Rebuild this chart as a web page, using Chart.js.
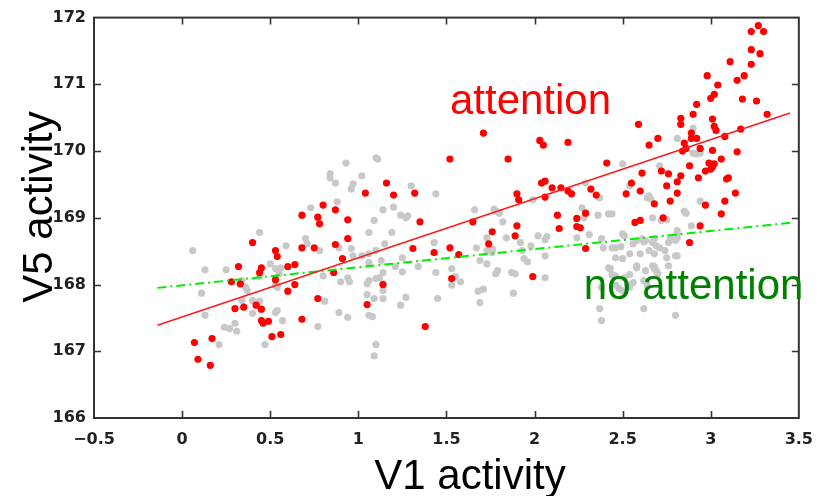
<!DOCTYPE html>
<html>
<head>
<meta charset="utf-8">
<script src="https://cdn.jsdelivr.net/npm/chart.js@4/dist/chart.umd.min.js"></script>
<style>
html,body{margin:0;padding:0;background:#fff;}
canvas{display:block;}
</style>
</head>
<body>
<canvas id="c" width="825" height="496"></canvas>
<script>
// ---- tick labels ----
const xTickValues = [-0.5, 0, 0.5, 1, 1.5, 2, 2.5, 3, 3.5];
const yTickValues = [166, 167, 168, 169, 170, 171, 172];

// ---- attention (red) points ----
const attentionX = [0.40,0.68,0.75,0.87,0.53,0.54,0.91,0.32,0.45,0.60,
0.64,0.44,0.86,0.28,0.33,0.53,0.64,0.60,0.77,0.30,
0.35,0.42,0.45,0.45,0.46,0.49,0.68,0.07,0.17,0.51,
0.56,0.09,0.16,0.80,0.68,0.77,0.78,0.87,0.94,1.04,
1.52,1.71,1.16,1.20,1.32,0.94,1.85,2.03,2.05,2.19,
2.04,2.06,1.90,1.91,2.06,2.10,2.15,2.19,1.35,1.65,
2.13,1.90,2.14,1.76,1.89,1.31,1.52,1.43,1.57,1.74,
1.14,1.05,1.53,1.99,1.38,2.59,2.65,2.70,2.41,2.21,
2.32,2.35,2.55,2.61,2.52,2.60,2.72,2.76,2.77,2.75,
2.81,2.83,2.88,2.93,2.97,2.99,3.01,3.02,3.00,3.06,
3.09,3.10,3.14,3.15,3.08,3.06,2.83,2.83,2.90,2.92,
2.89,2.89,2.92,2.94,2.85,2.86,3.01,3.02,3.03,3.01,
3.08,3.17,2.98,3.00,3.02,3.04,3.11,3.15,3.19,3.18,
3.23,3.23,3.26,3.28,3.23,3.27,3.30,3.32,
2.24,2.24,2.26,2.29,2.29,2.57,2.60,2.68,2.73,2.88,
2.94,2.97,2.81,2.84];
const attentionY = [168.63,168.55,168.55,168.60,168.51,168.42,168.39,168.27,168.25,168.27,
168.30,168.18,168.18,168.04,168.01,168.07,168.00,167.90,167.79,167.64,
167.66,167.69,167.63,167.46,167.42,167.45,167.48,167.13,167.19,167.22,
167.25,166.88,166.79,169.19,169.04,169.01,168.91,169.12,168.97,169.37,
169.88,170.27,169.52,169.34,169.37,168.69,169.88,170.16,170.09,170.13,
169.52,169.55,169.36,169.27,169.31,169.45,169.45,169.40,168.94,168.94,
169.04,168.88,168.84,168.79,168.73,168.54,168.55,168.48,168.45,168.61,
168.00,167.70,168.09,168.12,167.37,170.40,170.09,170.19,169.82,169.36,
169.43,169.34,169.52,169.67,169.36,169.40,169.70,169.66,169.25,169.48,
169.37,169.63,169.78,169.60,169.70,169.82,169.76,169.81,169.73,169.88,
169.58,169.60,169.37,169.99,169.25,169.06,170.49,170.40,170.55,170.70,
170.27,170.19,170.19,170.04,170.12,170.04,170.48,170.37,170.31,170.01,
170.22,170.33,171.13,170.79,170.85,170.99,171.34,171.06,171.13,170.78,
171.30,171.52,170.75,171.46,171.79,171.88,171.79,170.55,
168.99,168.87,168.85,169.07,168.54,168.93,168.96,169.21,169.00,168.63,
168.88,169.19,169.54,170.00];

// ---- no attention (grey) points ----
const noAttentionX = [0.06,0.13,0.11,0.13,0.25,0.34,0.37,0.34,0.40,0.40,
0.30,0.24,0.27,0.31,0.21,0.44,0.50,0.53,0.53,0.54,
0.54,0.53,0.57,0.47,0.59,0.70,0.73,0.78,0.80,0.81,
0.77,0.88,0.89,0.96,0.97,0.90,0.94,0.95,0.89,0.94,
1.06,1.09,1.20,1.24,1.27,1.28,1.19,1.15,1.10,1.02,
1.06,1.05,1.06,1.10,1.12,1.14,1.14,1.09,1.14,1.05,
1.06,1.08,1.10,1.09,1.27,1.24,1.21,1.25,1.34,1.43,
1.44,1.45,1.53,1.55,1.53,1.58,1.66,1.68,1.71,1.69,
1.76,1.79,1.78,0.84,0.84,0.87,0.93,1.02,0.97,0.96,
1.10,1.11,1.14,1.30,1.44,1.77,1.80,1.82,1.99,2.02,
2.07,1.84,1.06,1.14,1.13,1.25,1.76,1.92,1.98,1.87,
1.89,1.88,1.94,1.96,2.06,2.06,1.73,1.67,1.73,1.76,
1.73,1.69,1.93,2.06,2.36,2.42,2.44,2.38,2.44,2.46,
2.50,2.51,2.54,2.46,2.50,2.43,2.46,2.56,2.58,2.58,
2.58,2.54,2.60,2.62,2.63,2.65,2.67,2.69,2.71,2.74,
2.63,2.68,2.69,2.70,2.76,2.80,2.81,2.81,2.81,2.80,
2.86,2.89,2.72,2.75,2.75,2.37,2.38,2.62,2.80,2.53,
2.54,2.56,2.62,2.64,2.50,2.38,2.48,2.27,2.28,2.31,
2.24,2.39,2.49,2.42,2.44,2.51,2.61,2.67,2.68,2.68,
2.67,2.68,2.81,2.77,2.67,2.64,2.66,2.85,2.94,2.37,
2.76,2.46,2.90,2.81,2.90,2.94,2.92,2.50,2.71,2.29,
2.54,2.65,1.78,0.36,0.44,0.44,0.56,0.55,0.71];
const noAttentionY = [168.51,168.22,167.87,167.54,168.22,168.06,167.91,167.76,167.76,167.57,
167.42,167.36,167.34,167.30,167.10,168.78,168.31,168.24,167.99,167.96,
167.61,167.58,167.46,167.10,168.58,168.69,169.15,168.51,168.13,167.75,
167.37,169.24,168.55,168.54,168.43,168.04,168.10,168.04,167.58,167.51,
168.78,168.96,169.16,169.04,169.00,169.03,168.78,168.61,168.51,168.43,
168.33,168.01,168.06,168.09,168.10,168.01,167.91,167.79,167.79,167.85,
167.54,167.52,167.10,166.93,167.81,167.69,168.27,168.19,168.27,168.63,
168.18,167.79,168.24,168.12,167.99,168.04,169.12,167.90,167.93,167.73,
168.51,168.21,168.16,169.66,169.60,169.52,169.82,169.63,169.51,169.43,
169.90,169.88,169.12,169.48,169.36,169.13,169.07,168.94,169.27,168.73,
168.72,168.70,168.46,168.18,168.36,168.40,168.54,168.63,168.58,168.18,
168.16,167.87,168.39,168.34,168.43,168.10,168.70,168.55,168.51,168.48,
168.31,168.36,168.51,168.67,169.04,169.06,169.06,168.69,168.55,168.55,
168.76,168.73,168.46,168.40,168.39,168.24,168.13,168.61,168.66,168.28,
168.25,168.15,168.46,168.64,168.66,168.51,168.63,168.58,168.55,168.51,
168.21,168.27,168.21,168.16,168.28,168.43,168.81,168.76,168.70,168.66,
169.07,168.88,168.96,168.97,168.40,167.64,167.46,167.64,167.54,167.99,
167.96,168.03,168.06,167.99,167.91,167.96,167.94,169.15,169.00,168.75,
168.70,168.55,168.57,168.25,168.15,168.10,168.69,168.64,168.69,168.46,
168.28,168.24,168.43,168.70,169.00,169.30,169.28,169.10,169.25,169.30,
168.63,167.99,170.34,170.19,169.97,169.97,169.96,169.81,169.78,169.52,
169.48,169.33,169.10,167.96,168.12,167.75,168.25,168.16,168.61];

// ---- fitted lines (end points) ----
const attentionFitX = [-0.14, 3.45];
const attentionFitY = [167.39, 170.57];
const noAttentionFitX = [-0.14, 3.47];
const noAttentionFitY = [167.95, 168.93];

function pts(xs, ys) {
  const n = Math.min(xs.length, ys.length);
  const out = [];
  for (let i = 0; i < n; i++) out.push({x: xs[i], y: ys[i]});
  return out;
}

const fmtX = v => v < 0 ? '\u2212' + Math.abs(v) : String(v);

const framePlugin = {
  id: 'frameAndText',
  afterDraw(chart) {
    const {ctx, chartArea: a, scales} = chart;
    const x = scales.x, y = scales.y;
    ctx.save();
    // box
    ctx.strokeStyle = '#333';
    ctx.lineWidth = 2;
    ctx.strokeRect(a.left, a.top, a.right - a.left, a.bottom - a.top);
    // inward ticks on all four sides
    const L = 7;
    ctx.lineWidth = 1.6;
    ctx.beginPath();
    x.ticks.forEach(t => {
      const p = Math.round(x.getPixelForValue(t.value)) + 0.5;
      if (p <= a.left + 2 || p >= a.right - 2) return;
      ctx.moveTo(p, a.bottom); ctx.lineTo(p, a.bottom - L);
      ctx.moveTo(p, a.top); ctx.lineTo(p, a.top + L);
    });
    y.ticks.forEach(t => {
      const p = Math.round(y.getPixelForValue(t.value)) + 0.5;
      if (p <= a.top + 2 || p >= a.bottom - 2) return;
      ctx.moveTo(a.left, p); ctx.lineTo(a.left + L, p);
      ctx.moveTo(a.right, p); ctx.lineTo(a.right - L, p);
    });
    ctx.stroke();

    // axis titles
    ctx.fillStyle = '#000';
    ctx.font = '42px "Liberation Sans", Arial, sans-serif';
    ctx.textAlign = 'center';
    ctx.textBaseline = 'alphabetic';
    ctx.fillText('V1 activity', 470, 489);
    ctx.save();
    ctx.translate(52, 207);
    ctx.rotate(-Math.PI / 2);
    ctx.fillText('V5 activity', 0, 0);
    ctx.restore();

    // in-plot labels
    ctx.textAlign = 'left';
    ctx.fillStyle = '#ff0000';
    ctx.fillText('attention', x.getPixelForValue(1.52), y.getPixelForValue(170.55));
    ctx.fillStyle = '#008000';
    ctx.fillText('no attention', x.getPixelForValue(2.28), y.getPixelForValue(167.78));
    ctx.restore();
  }
};

const tickFont = {family: '"DejaVu Sans", sans-serif', size: 16, weight: 'bold'};

new Chart(document.getElementById('c'), {
  type: 'scatter',
  data: {
    datasets: [
      {
        label: 'attention fit',
        data: pts(attentionFitX, attentionFitY),
        showLine: true,
        borderColor: '#ff1a1a',
        borderWidth: 1.5,
        pointRadius: 0,
        order: 0
      },
      {
        label: 'no attention fit',
        data: pts(noAttentionFitX, noAttentionFitY),
        showLine: true,
        borderColor: '#00ee00',
        borderWidth: 2,
        borderDash: [9, 4, 2, 4],
        pointRadius: 0,
        order: 0
      },
      {
        label: 'attention',
        data: pts(attentionX, attentionY),
        backgroundColor: '#ff0000',
        borderWidth: 0,
        pointRadius: 3.6,
        order: 1
      },
      {
        label: 'no attention',
        data: pts(noAttentionX, noAttentionY),
        backgroundColor: '#c8c8c8',
        borderWidth: 0,
        pointRadius: 3.6,
        order: 2
      }
    ]
  },
  options: {
    responsive: false,
    animation: false,
    devicePixelRatio: 1,
    layout: {padding: {top: 16, right: 25, left: 0, bottom: 0}},
    plugins: {legend: {display: false}, tooltip: {enabled: false}},
    scales: {
      x: {
        type: 'linear',
        min: -0.5,
        max: 3.5,
        afterBuildTicks: s => { s.ticks = xTickValues.map(v => ({value: v})); },
        afterFit: s => { s.height = 78; },
        grid: {display: false, drawTicks: false},
        border: {display: false},
        ticks: {
          padding: 12,
          font: tickFont,
          color: '#222',
          maxRotation: 0,
          autoSkip: false,
          callback: v => fmtX(v)
        }
      },
      y: {
        type: 'linear',
        min: 166,
        max: 172,
        afterBuildTicks: s => { s.ticks = yTickValues.map(v => ({value: v})); },
        afterFit: s => { s.width = 94; },
        grid: {display: false, drawTicks: false},
        border: {display: false},
        ticks: {
          padding: 8,
          font: tickFont,
          color: '#222',
          autoSkip: false,
          callback: v => String(v)
        }
      }
    }
  },
  plugins: [framePlugin]
});
</script>
</body>
</html>
